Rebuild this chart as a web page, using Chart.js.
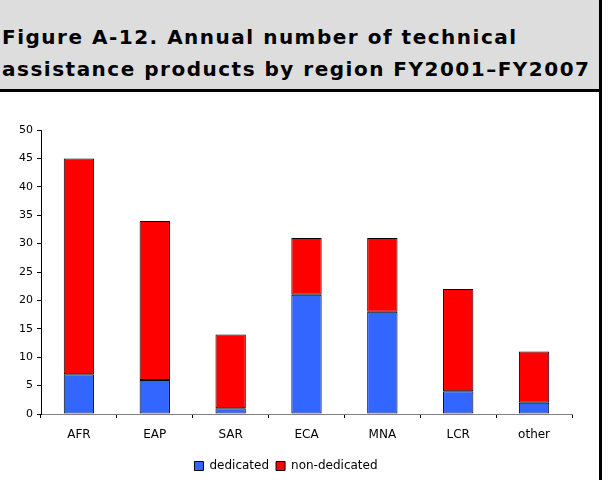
<!DOCTYPE html>
<html>
<head>
<meta charset="utf-8">
<script src="https://cdn.jsdelivr.net/npm/chart.js@4"></script>
<style>
  body { margin: 0; background: #fff; overflow: hidden; }
  #box { width: 599px; height: 480px; border-right: 3px solid #000; overflow: hidden; }
  #head {
    height: 68px; padding: 21px 0 0 2px; background: #dddddd;
    border-bottom: 3px solid #000;
    font: bold 20px "DejaVu Sans", Verdana, sans-serif; line-height: 32px; color: #000;
    letter-spacing: 1.5px; white-space: nowrap;
  }
  canvas { display: block; }
</style>
</head>
<body>
<div id="box">
  <div id="head">Figure A-12. Annual number of technical<br>assistance products by region FY2001–FY2007</div>
  <canvas id="myChart" width="599" height="390"></canvas>
</div>
<script>
const regions = ['AFR', 'EAP', 'SAR', 'ECA', 'MNA', 'LCR', 'other'];
const dedicated = [7, 6, 1, 21, 18, 4, 2];
const nonDedicated = [38, 28, 13, 10, 13, 18, 9];

const ctx = document.getElementById('myChart').getContext('2d');
const yFont = { family: 'DejaVu Sans', size: 11 };
const xFont = { family: 'DejaVu Sans', size: 12 };

new Chart(ctx, {
  type: 'bar',
  data: {
    labels: regions,
    datasets: [{
      label: 'dedicated',
      data: dedicated,
      backgroundColor: '#3366ff',
      borderColor: '#000',
      borderWidth: 1,
      borderSkipped: false
    }, {
      label: 'non-dedicated',
      data: nonDedicated,
      backgroundColor: '#ff0000',
      borderColor: '#000',
      borderWidth: 1,
      borderSkipped: false
    }]
  },
  options: {
    responsive: false,
    animation: false,
    layout: { padding: { left: 0, right: 27, top: 38, bottom: 0 } },
    datasets: { bar: { categoryPercentage: 1, barPercentage: 0.4 } },
    plugins: {
      legend: {
        position: 'bottom',
        labels: { boxWidth: 9, boxHeight: 9, padding: 7, color: '#000', font: xFont }
      },
      tooltip: { enabled: false }
    },
    scales: {
      x: {
        stacked: true,
        border: { color: '#808080', width: 1 },
        grid: { drawOnChartArea: false, drawTicks: true, tickLength: 4, color: '#000', offset: true },
        ticks: { color: '#000', font: xFont, padding: 10 },
        afterFit: (s) => { s.height = 39; }
      },
      y: {
        stacked: true,
        min: 0, max: 50,
        border: { color: '#000', width: 1 },
        grid: { drawOnChartArea: false, drawTicks: true, tickLength: 4, color: '#000' },
        ticks: { stepSize: 5, color: '#000', font: yFont, padding: 4 },
        afterFit: (s) => { s.width = 41; }
      }
    }
  }
});
</script>
</body>
</html>
